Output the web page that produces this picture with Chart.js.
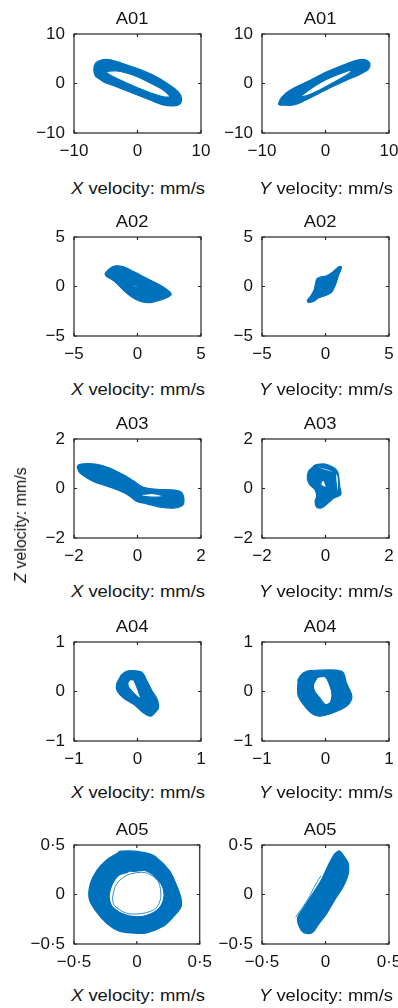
<!DOCTYPE html>
<html>
<head>
<meta charset="utf-8">
<script src="https://cdn.jsdelivr.net/npm/chart.js@4.4.1/dist/chart.umd.min.js"></script>
<style>
  body { margin: 0; width: 398px; height: 1008px; overflow: hidden; position: relative; background: #fff;
         font-family: "Liberation Sans", Arial, sans-serif; color: #141414; }
  canvas { position: absolute; }
  .lbl { position: absolute; white-space: nowrap; font-size: 16px; line-height: 16px;
         transform: translateX(-50%) scaleX(1.15); }
  .zlbl { position: absolute; white-space: nowrap; font-size: 16px; line-height: 16px;
          transform: translate(-50%, -50%) rotate(-90deg); }
</style>
</head>
<body>
<script>
// ----------- DATA (velocities in mm/s) -----------
const titles = ["A01", "A02", "A03", "A04", "A05"];
const axisMax = [10, 5, 2, 1, 0.5];
const tickValues = [[-10, 0, 10], [-5, 0, 5], [-2, 0, 2], [-1, 0, 1], [-0.5, 0, 0.5]];
const tickText = [["\u221210", "0", "10"], ["\u22125", "0", "5"], ["\u22122", "0", "2"],
                  ["\u22121", "0", "1"], ["\u22120\u00b75", "0", "0\u00b75"]];

// A01: X-Z and Y-Z trajectory envelopes
const a01xOuter = [[-6.88,2.67],[-6.6,4.13],[-5.57,4.8],[-4.27,4.8],[-2.19,4.0],[0.42,2.8],[3.02,1.33],
  [5.1,-0.33],[6.4,-1.67],[6.93,-3.0],[6.67,-4.13],[5.63,-4.53],[4.06,-4.33],[1.98,-3.33],[-0.63,-2.0],
  [-3.23,-0.67],[-5.31,0.33],[-6.46,1.33]];
const a01xInner = [[-5.05,2.33],[-3.23,2.53],[-0.63,1.67],[1.98,0.13],[4.06,-1.33],[5.1,-2.67],
  [4.06,-2.67],[1.98,-1.87],[-0.63,-0.53],[-3.23,1.0],[-4.53,1.87]];
const a01yOuter = [[-7.4,-4.1],[-6.9,-2.8],[-5.6,-1.35],[-2.9,0.35],[0.2,2.35],[3.3,4.0],[5.4,4.85],
  [6.5,4.7],[7.0,4.0],[6.7,2.8],[5.4,1.85],[3.3,0.65],[0.2,-1.2],[-2.9,-3.2],[-5.0,-4.35],[-7.1,-4.35]];
const a01yInner = [[-4.2,-2.75],[-2.0,-0.75],[0.2,0.85],[2.3,2.0],[4.2,2.7],[3.4,1.75],[1.2,0.15],
  [-1.0,-1.35],[-3.1,-2.5]];

// A02
const a02xOuter = [[-2.55,1.25],[-2.2,1.8],[-1.75,2.08],[-1.1,1.98],[-0.3,1.5],[0.75,0.8],[1.8,0.13],
  [2.45,-0.44],[2.65,-0.78],[2.3,-1.12],[1.5,-1.48],[0.85,-1.64],[0.2,-1.48],[-0.45,-1.05],[-1.1,-0.38],
  [-1.75,0.46],[-2.3,0.92]];
const a02xInner = [[-0.37,0.15],[0.1,-0.02],[0.53,-0.22],[0.53,-0.32],[0.1,-0.14],[-0.37,0.02]];
const a02yOuter = [[1.25,2.0],[1.2,1.67],[1.04,1.17],[0.78,0.17],[0.47,-0.6],[-0.05,-0.93],[-0.57,-1.17],
  [-0.96,-1.5],[-1.35,-1.6],[-1.43,-1.4],[-1.15,-0.93],[-0.89,-0.33],[-0.7,0.73],[-0.44,0.93],
  [0.08,1.07],[0.6,1.5],[1.04,2.0]];

// A03
const a03xOuter = [[-1.86,0.95],[-1.7,1.0],[-1.28,0.98],[-0.86,0.82],[-0.44,0.55],[-0.13,0.31],[0.19,0.05],
  [0.61,-0.03],[1.03,-0.05],[1.35,-0.12],[1.45,-0.32],[1.43,-0.66],[1.14,-0.79],[0.72,-0.75],[0.29,-0.62],
  [-0.02,-0.52],[-0.23,-0.32],[-0.44,-0.16],[-0.86,0.05],[-1.39,0.28],[-1.81,0.62],[-1.89,0.82]];
const a03xInner = [[0.14,-0.22],[0.45,-0.2],[0.77,-0.28],[0.77,-0.33],[0.45,-0.35],[0.14,-0.3]];
const a03yOuter = [[-0.17,0.99],[0.09,0.95],[0.37,0.71],[0.45,0.08],[0.48,-0.25],[0.25,-0.39],[0.14,-0.52],
  [-0.02,-0.7],[-0.15,-0.79],[-0.28,-0.75],[-0.33,-0.52],[-0.28,-0.32],[-0.33,-0.05],[-0.49,0.15],
  [-0.57,0.38],[-0.54,0.68],[-0.38,0.89]];
const a03yInner = [[-0.09,0.42],[0.02,0.05],[-0.15,0.15]];
const a03yGap = [[0.31,0.6],[0.38,-0.2],[0.41,-0.2],[0.35,0.6]];

// A04
const a04xOuter = [[-0.17,0.41],[-0.06,0.42],[0.07,0.39],[0.15,0.21],[0.23,0.01],[0.31,-0.16],[0.33,-0.33],
  [0.25,-0.46],[0.2,-0.5],[0.09,-0.43],[-0.06,-0.26],[-0.22,-0.13],[-0.32,0.01],[-0.33,0.14],[-0.27,0.3]];
const a04xInner = [[-0.12,0.24],[-0.06,0.23],[0.04,-0.09],[0.05,-0.15],[-0.04,-0.06],[-0.14,0.09],[-0.15,0.19]];
const a04yOuter = [[-0.4,0.31],[-0.3,0.41],[-0.09,0.43],[0.17,0.43],[0.28,0.38],[0.33,0.17],[0.41,-0.06],
  [0.41,-0.16],[0.33,-0.3],[0.12,-0.43],[-0.09,-0.5],[-0.22,-0.44],[-0.35,-0.26],[-0.43,-0.09],
  [-0.44,0.07],[-0.43,0.2]];
const a04yInner = [[-0.14,0.28],[-0.01,0.3],[0.04,0.21],[0.1,-0.03],[0.07,-0.23],[-0.01,-0.26],
  [-0.09,-0.13],[-0.17,0.0],[-0.19,0.14]];

// A05
const a05xOuter = [[-0.06,0.44],[0.07,0.42],[0.15,0.38],[0.26,0.24],[0.31,0.11],[0.35,-0.03],[0.35,-0.13],
  [0.28,-0.24],[0.21,-0.32],[0.07,-0.39],[-0.03,-0.39],[-0.14,-0.37],[-0.24,-0.29],[-0.33,-0.16],
  [-0.38,-0.04],[-0.37,0.11],[-0.32,0.24],[-0.24,0.35],[-0.15,0.42]];
const a05xInner = [[-0.06,0.24],[0.07,0.24],[0.16,0.16],[0.21,0.06],[0.21,-0.06],[0.16,-0.16],[0.05,-0.22],
  [-0.08,-0.21],[-0.19,-0.13],[-0.22,-0.03],[-0.2,0.09],[-0.15,0.19]];
const a05xStray = [[-0.195,-0.03],[-0.16,0.11],[-0.07,0.2],[0.07,0.22],[0.17,0.13],[0.19,-0.03],
  [0.15,-0.14],[0.05,-0.19],[-0.08,-0.19],[-0.18,-0.11],[-0.195,-0.03]];
const a05yOuter = [[0.11,0.44],[0.17,0.34],[0.18,0.31],[0.18,0.21],[0.14,0.08],[0.07,-0.06],[0.01,-0.19],
  [-0.06,-0.31],[-0.1,-0.38],[-0.16,-0.39],[-0.2,-0.34],[-0.22,-0.24],[-0.17,-0.13],[-0.12,-0.03],
  [-0.04,0.13],[0.02,0.29],[0.07,0.41]];
const a05yStray = [[-0.235,-0.23],[-0.14,-0.05],[-0.075,0.11],[-0.035,0.19]];

// ----------- LAYOUT -----------
const BLUE = "#0072bd";
const INK = "#141414";
const FONT = '"Liberation Sans", Arial, sans-serif';
const rowTop = [33.5, 236.5, 439, 642, 844.5];
const labelMid = [189, 390, 592, 793, 996];
const BOX_H = 99;
const cols = [
  { left: 0,   width: 220, axisW: 74, padRight: 19, title: 132, label: 137.5, name: "X" },
  { left: 205, width: 205, axisW: 57, padRight: 21, title: 320, label: 325.5, name: "Y" }
];

const panels = [
  [ { outer: a01xOuter, holes: [a01xInner] }, { outer: a01yOuter, holes: [a01yInner] } ],
  [ { outer: a02xOuter, holes: [a02xInner] }, { outer: a02yOuter, holes: [] } ],
  [ { outer: a03xOuter, holes: [a03xInner] }, { outer: a03yOuter, holes: [a03yInner, a03yGap] } ],
  [ { outer: a04xOuter, holes: [a04xInner] }, { outer: a04yOuter, holes: [a04yInner] } ],
  [ { outer: a05xOuter, holes: [a05xInner], stray: [a05xStray] }, { outer: a05yOuter, holes: [], stray: [a05yStray] } ]
];

// one closed path: outer loop, then each hole with opposite winding
function signedArea(p) {
  let a = 0;
  for (let i = 0; i < p.length; i++) {
    const [x1, y1] = p[i], [x2, y2] = p[(i + 1) % p.length];
    a += x1 * y2 - x2 * y1;
  }
  return a / 2;
}
function ringPath(outer, holes) {
  const o = signedArea(outer) > 0 ? outer : outer.slice().reverse();
  let path = [...o, o[0]];
  holes.forEach(h => {
    const r = signedArea(h) < 0 ? h : h.slice().reverse();
    path = path.concat(r, [r[0], o[0]]);
  });
  return path.map(([x, y]) => ({ x, y }));
}

// box with inward tick marks, like the original axes
const frame = {
  id: "frame",
  afterDatasetsDraw(chart) {
    const { ctx, chartArea: a, scales: { x, y } } = chart;
    ctx.save();
    ctx.strokeStyle = "#262626";
    ctx.lineWidth = 1.2;
    ctx.strokeRect(a.left, a.top, a.right - a.left, a.bottom - a.top);
    ctx.beginPath();
    x.ticks.forEach(t => {
      const px = x.getPixelForValue(t.value);
      ctx.moveTo(px, a.bottom); ctx.lineTo(px, a.bottom - 3);
      ctx.moveTo(px, a.top); ctx.lineTo(px, a.top + 3);
    });
    y.ticks.forEach(t => {
      const py = y.getPixelForValue(t.value);
      ctx.moveTo(a.left, py); ctx.lineTo(a.left + 3, py);
      ctx.moveTo(a.right, py); ctx.lineTo(a.right - 3, py);
    });
    ctx.stroke();
    ctx.restore();
  }
};

function addText(cls, html, left, top) {
  const d = document.createElement("div");
  d.className = cls;
  d.innerHTML = html;
  d.style.left = left + "px";
  d.style.top = top + "px";
  document.body.appendChild(d);
}

function axisOpts(row, extra) {
  return Object.assign({
    type: "linear",
    min: -axisMax[row],
    max: axisMax[row],
    grid: { display: false, drawTicks: false },
    border: { display: false },
    afterBuildTicks: s => { s.ticks = tickValues[row].map(v => ({ value: v })); },
    ticks: {
      autoSkip: false, maxRotation: 0,
      color: INK,
      font: { family: FONT, size: 17 },
      callback: (v, i) => tickText[row][i]
    }
  }, extra);
}

panels.forEach((pair, row) => {
  pair.forEach((p, c) => {
    const col = cols[c];
    const cv = document.createElement("canvas");
    cv.width = col.width;
    cv.height = 33 + BOX_H + 30;
    cv.style.left = col.left + "px";
    cv.style.top = (rowTop[row] - 33) + "px";
    document.body.appendChild(cv);

    const datasets = [{
      data: ringPath(p.outer, p.holes),
      showLine: true, fill: "shape", tension: 0.3,
      backgroundColor: BLUE, borderColor: BLUE, borderWidth: 1.2, pointRadius: 0
    }];
    (p.stray || []).forEach(s => datasets.push({
      data: s.map(([x, y]) => ({ x, y })),
      showLine: true, fill: false, tension: 0.3,
      borderColor: BLUE, borderWidth: 0.8, pointRadius: 0
    }));

    const xs = axisOpts(row, { afterFit: s => { s.height = 30; } });
    xs.ticks.padding = 8;
    const ys = axisOpts(row, { afterFit: s => { s.width = col.axisW; } });
    ys.ticks.padding = 9;

    new Chart(cv.getContext("2d"), {
      type: "scatter",
      data: { datasets },
      options: {
        responsive: false, animation: false, devicePixelRatio: 1, events: [],
        layout: { autoPadding: false, padding: { top: 33, right: col.padRight, left: 0, bottom: 0 } },
        plugins: { legend: { display: false }, tooltip: { enabled: false } },
        scales: { x: xs, y: ys }
      },
      plugins: [frame]
    });

    addText("lbl", titles[row], col.title, rowTop[row] - 9.5 - 13.5);
    addText("lbl", "<i>" + col.name + "</i> velocity: mm/s", col.label, labelMid[row] - 8.5);
  });
});

addText("zlbl", "<i>Z</i> velocity: mm/s", 21, 525);
</script>
</body>
</html>
